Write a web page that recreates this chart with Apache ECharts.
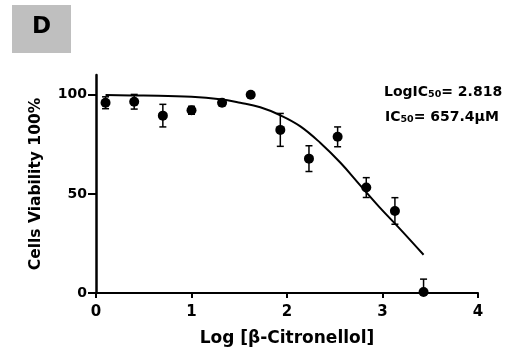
<!DOCTYPE html>
<html><head><meta charset="utf-8">
<script src="https://cdn.jsdelivr.net/npm/echarts@6/dist/echarts.min.js"></script>
<style>html,body{margin:0;padding:0;background:#fff}#c{width:521px;height:354px}</style>
</head><body><div id="c"></div>
<script>
// measured points
const logConc = [0.1, 0.4, 0.7, 1.0, 1.32, 1.62, 1.93, 2.23, 2.53, 2.83, 3.13, 3.43];
const viability = [96, 96.5, 89.5, 92.2, 96, 100, 82.3, 67.8, 78.8, 53.2, 41.4, 0.5];
const sem = [3, 3.7, 5.7, 2, 1.5, 0, 8.3, 6.5, 5, 5, 6.7, 6.5];
// fitted curve
const curveX = [0.1, 0.5, 1.0, 1.3, 1.51, 1.72, 1.93, 2.14, 2.35, 2.56, 2.76, 2.97, 3.18, 3.43];
const curveY = [99.9, 99.6, 99.0, 97.8, 96.0, 93.7, 89.7, 84.1, 75.7, 65.7, 54.7, 43.2, 32.5, 19.3];
const xTicks = [0, 1, 2, 3, 4];
const yTicks = [0, 50, 100];

const FONT = '"DejaVu Sans", Arial, sans-serif';
const chart = echarts.init(document.getElementById('c'));
chart.setOption({
  animation: false,
  backgroundColor: '#fff',
  grid: {left: 96, right: 43, top: 75, bottom: 61, containLabel: false},
  xAxis: {
    type: 'value', min: 0, max: 4, interval: 1,
    name: 'Log [β-Citronellol]', nameLocation: 'middle', nameGap: 37,
    nameTextStyle: {fontFamily: FONT, fontWeight: 'bold', fontSize: 17, color: '#000'},
    axisLine: {show: true, onZero: false, lineStyle: {color: '#000', width: 2}},
    axisTick: {show: true, length: 5, lineStyle: {color: '#000', width: 2}, customValues: xTicks},
    axisLabel: {fontFamily: FONT, fontWeight: 'bold', fontSize: 15, color: '#000', margin: 12, customValues: xTicks},
    splitLine: {show: false}
  },
  yAxis: {
    type: 'value', min: 0, max: 110, interval: 50,
    name: 'Cells Viability 100%', nameLocation: 'middle', nameGap: 52, nameRotate: 90,
    nameTextStyle: {fontFamily: FONT, fontWeight: 'bold', fontSize: 15.5, color: '#000'},
    axisLine: {show: true, onZero: false, lineStyle: {color: '#000', width: 2.5}},
    axisTick: {show: true, length: 8, lineStyle: {color: '#000', width: 2}, customValues: yTicks},
    axisLabel: {fontFamily: FONT, fontWeight: 'bold', fontSize: 14, color: '#000', margin: 9, customValues: yTicks},
    splitLine: {show: false}
  },
  series: [
    {
      type: 'line', data: curveX.map((x, i) => [x, curveY[i]]),
      smooth: 0.4, showSymbol: false, symbol: 'none',
      lineStyle: {color: '#000', width: 2}, z: 2
    },
    {
      type: 'custom', clip: false, z: 3,
      data: logConc.map((x, i) => [x, viability[i], sem[i]]),
      renderItem: function (params, api) {
        const x = api.value(0), y = api.value(1), e = api.value(2);
        if (!e) return {type: 'group', children: []};
        const lo = Math.max(0, y - e), hi = y + e;
        const pHi = api.coord([x, hi]), pLo = api.coord([x, lo]);
        const w = 3.5;
        const st = {stroke: '#000', lineWidth: 1.5};
        const ch = [
          {type: 'line', shape: {x1: pHi[0], y1: pHi[1], x2: pLo[0], y2: pLo[1]}, style: st},
          {type: 'line', shape: {x1: pHi[0] - w, y1: pHi[1], x2: pHi[0] + w, y2: pHi[1]}, style: st}
        ];
        if (y - e > 0) ch.push({type: 'line', shape: {x1: pLo[0] - w, y1: pLo[1], x2: pLo[0] + w, y2: pLo[1]}, style: st});
        return {type: 'group', children: ch};
      }
    },
    {
      type: 'scatter', data: logConc.map((x, i) => [x, viability[i]]),
      symbol: 'circle', symbolSize: 10, itemStyle: {color: '#000', opacity: 1}, z: 4, clip: false
    }
  ],
  graphic: [
    {type: 'rect', left: 12, top: 5, shape: {width: 59, height: 48}, style: {fill: '#bfbfbf'}},
    {type: 'text', left: 32, top: 16, style: {text: 'D', fontFamily: FONT, fontWeight: 'bold', fontSize: 23, fill: '#000'}},
    {type: 'text', left: 384, top: 85, style: {
      text: '{a|LogIC}{s|50}{a|= 2.818}',
      rich: {a: {fontFamily: FONT, fontWeight: 'bold', fontSize: 14, color: '#000'},
             s: {fontFamily: FONT, fontWeight: 'bold', fontSize: 9.5, color: '#000', verticalAlign: 'bottom', padding: [6, 0, 0, 0]}}
    }},
    {type: 'text', left: 385, top: 110, style: {
      text: '{a|IC}{s|50}{a|= 657.4μM}',
      rich: {a: {fontFamily: FONT, fontWeight: 'bold', fontSize: 14, color: '#000'},
             s: {fontFamily: FONT, fontWeight: 'bold', fontSize: 9.5, color: '#000', verticalAlign: 'bottom', padding: [6, 0, 0, 0]}}
    }}
  ]
});
</script></body></html>
